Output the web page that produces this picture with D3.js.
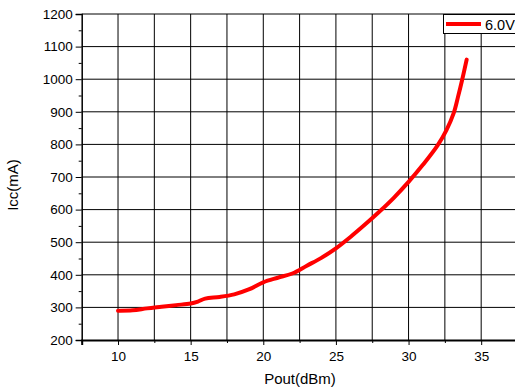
<!DOCTYPE html>
<html>
<head>
<meta charset="utf-8">
<script src="https://cdn.jsdelivr.net/npm/d3@7"></script>
<style>
  body { margin: 0; background: #fff; }
  text { font-family: "Liberation Sans", Arial, sans-serif; fill: #000; }
</style>
</head>
<body>
<div id="chart"></div>
<script>
// Pout (dBm) vs Icc (mA) at 6.0V
var pout = [10, 11, 12, 13, 14, 15, 15.5, 16, 17, 18, 19, 20, 21, 22, 23, 24, 25, 26, 27, 28, 29, 30, 31, 32, 32.6, 33.1, 33.4, 33.7, 34];
var icc  = [290, 291, 297, 302, 307, 312, 318, 327, 332, 340, 355, 377, 391, 404, 428, 452, 481, 516, 554, 594, 637, 685, 738, 797, 843, 895, 945, 1000, 1060];
var seriesName = "6.0V";
var xTicks = [10, 15, 20, 25, 30, 35];
var yTicks = [200, 300, 400, 500, 600, 700, 800, 900, 1000, 1100, 1200];

var width = 515, height = 390;
var svg = d3.select("#chart").append("svg")
    .attr("width", width)
    .attr("height", height);

var x = d3.scaleLinear().domain([7.5, 37.5]).range([81.7, 517.5]);
var y = d3.scaleLinear().domain([200, 1200]).range([340, 14]);

// grid lines
var xGrid = d3.range(7.5, 37.6, 2.5);
svg.append("g").selectAll("line")
    .data(xGrid.slice(1))
    .join("line")
    .attr("x1", d => x(d)).attr("x2", d => x(d))
    .attr("y1", y(200)).attr("y2", y(1200))
    .attr("stroke", "#000").attr("stroke-width", 1);

svg.append("g").selectAll("line")
    .data(yTicks.slice(1))
    .join("line")
    .attr("x1", x(7.5)).attr("x2", width)
    .attr("y1", d => y(d)).attr("y2", d => y(d))
    .attr("stroke", "#000").attr("stroke-width", 1);

// bottom axis
var xAxis = svg.append("g")
    .attr("transform", "translate(0," + y(200) + ")")
    .call(d3.axisBottom(x).tickValues(xTicks).tickSize(5).tickPadding(6).tickFormat(d3.format("d")));
xAxis.select(".domain").attr("stroke-width", 2);
xAxis.selectAll("text").style("font-size", "13.5px");
svg.append("g")
    .attr("transform", "translate(0," + y(200) + ")")
    .call(d3.axisBottom(x).tickValues(d3.range(7.5, 37.6, 5)).tickSize(3).tickFormat(""))
    .select(".domain").remove();

// left axis
var yAxis = svg.append("g")
    .attr("transform", "translate(" + x(7.5) + ",0)")
    .call(d3.axisLeft(y).tickValues(yTicks).tickSize(6).tickPadding(3).tickFormat(d3.format("d")));
yAxis.select(".domain").attr("stroke-width", 1.5);
yAxis.selectAll("text").style("font-size", "13.5px");
svg.append("g")
    .attr("transform", "translate(" + x(7.5) + ",0)")
    .call(d3.axisLeft(y).tickValues(d3.range(250, 1200, 100)).tickSize(3).tickFormat(""))
    .select(".domain").remove();

// the curve
var pts = pout.map((p, i) => [p, icc[i]]);
var line = d3.line()
    .x(d => x(d[0]))
    .y(d => y(d[1]))
    .curve(d3.curveCatmullRom.alpha(0.5));
svg.append("path")
    .datum(pts)
    .attr("d", line)
    .attr("fill", "none")
    .attr("stroke", "#ff0000")
    .attr("stroke-width", 4)
    .attr("stroke-linecap", "round");

// axis titles
svg.append("text")
    .attr("x", 300).attr("y", 384)
    .attr("text-anchor", "middle")
    .style("font-size", "15px")
    .text("Pout(dBm)");
svg.append("text")
    .attr("transform", "translate(18,185) rotate(-90)")
    .attr("text-anchor", "middle")
    .style("font-size", "15px")
    .text("Icc(mA)");

// legend
var legend = svg.append("g");
legend.append("rect")
    .attr("x", 443.5).attr("y", 14.5)
    .attr("width", 80).attr("height", 19)
    .attr("fill", "#fff").attr("stroke", "#000").attr("stroke-width", 1);
legend.append("line")
    .attr("x1", 446).attr("x2", 481)
    .attr("y1", 24).attr("y2", 24)
    .attr("stroke", "#ff0000").attr("stroke-width", 4);
legend.append("text")
    .attr("x", 485).attr("y", 29.5)
    .style("font-size", "14.5px")
    .text(seriesName);
</script>
</body>
</html>
